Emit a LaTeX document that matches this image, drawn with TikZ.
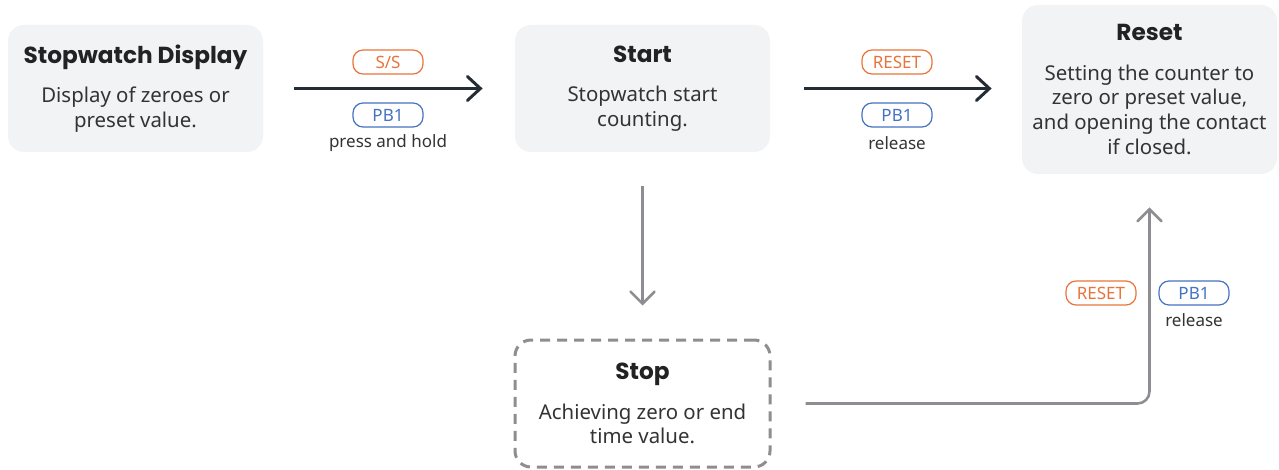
\documentclass[tikz,border=0pt]{standalone}
\usepackage{fontspec}
\setmainfont{Noto Sans}
\newfontfamily\headfont{Poppins}
\usetikzlibrary{arrows.meta}
\definecolor{ink}{HTML}{222222}
\definecolor{bodytext}{HTML}{333333}
\definecolor{panel}{HTML}{F2F3F5}
\definecolor{dark}{HTML}{252C36}
\definecolor{grey}{HTML}{8E8E92}
\definecolor{orange}{HTML}{E8743B}
\definecolor{blue}{HTML}{4472C4}
\newcommand\boxtitle[1]{{\headfont\bfseries\fontsize{11.6}{14}\selectfont\color{ink}#1}\\[7.5pt]}
\tikzset{state/.style={fill=panel,rounded corners=8pt,minimum width=127.5pt,minimum height=63.5pt,
  align=center,text=bodytext,inner sep=0pt,font=\fontsize{10.2}{12.4}\selectfont},
stopbox/.style={state,fill=white,draw=grey,line width=1.5pt,dash pattern=on 5pt off 3.5pt},
flow/.style={-{Straight Barb[length=6.5pt,width=12pt,line cap=round]},line width=1.5pt,dark,
  shorten <=15.5pt,shorten >=16pt},
gflow/.style={-{Straight Barb[length=6pt,width=12pt,line cap=round]},line width=1.3pt,grey,
  shorten <=17pt,shorten >=16.5pt},
badge/.style={draw,rounded corners=5pt,minimum width=35pt,minimum height=12pt,inner sep=0pt,
  line width=0.6pt,font=\fontsize{8.5}{9}\selectfont},
note/.style={text=bodytext,font=\fontsize{8.5}{9}\selectfont}}
\begin{document}
\begin{tikzpicture}[x=0.5pt,y=-0.5pt]
\useasboundingbox (0,0) rectangle (1279,470);
% states
\node[state] (disp) at (135.5,88.5) {\boxtitle{Stopwatch Display}Display of zeroes or\\preset value.};
\node[state] (start) at (642.5,88.5) {\boxtitle{Start}Stopwatch start\\counting.};
\node[state,minimum height=84.5pt] (reset) at (1149.5,89.5) {\boxtitle{Reset}Setting the counter to\\zero or preset value,\\and opening the contact\\if closed.};
\node[stopbox] (stop) at (642.5,403.5) {\boxtitle{Stop}Achieving zero or end\\time value.};
% transitions
\draw[flow] (disp) -- (start);
\draw[flow,shorten <=17pt,shorten >=15pt] (start) -- (reset.west |- start);
\draw[gflow] (start) -- (stop);
\draw[gflow,rounded corners=6pt] (stop) -| (reset);
% conditions
\node[badge,orange] (ss) at (388,62) {S/S};
\node[badge,blue] (pbA) at (388,115) {PB1};
\node[note] (hold) at (388,143) {press and hold};
\node[badge,orange] (rstA) at (897,62) {RESET};
\node[badge,blue] (pbB) at (897,115) {PB1};
\node[note] (relA) at (897,143) {release};
\node[badge,orange] (rstB) at (1101,293) {RESET};
\node[badge,blue] (pbC) at (1194,293) {PB1};
\node[note] (relB) at (1194,320) {release};
\end{tikzpicture}
\end{document}
